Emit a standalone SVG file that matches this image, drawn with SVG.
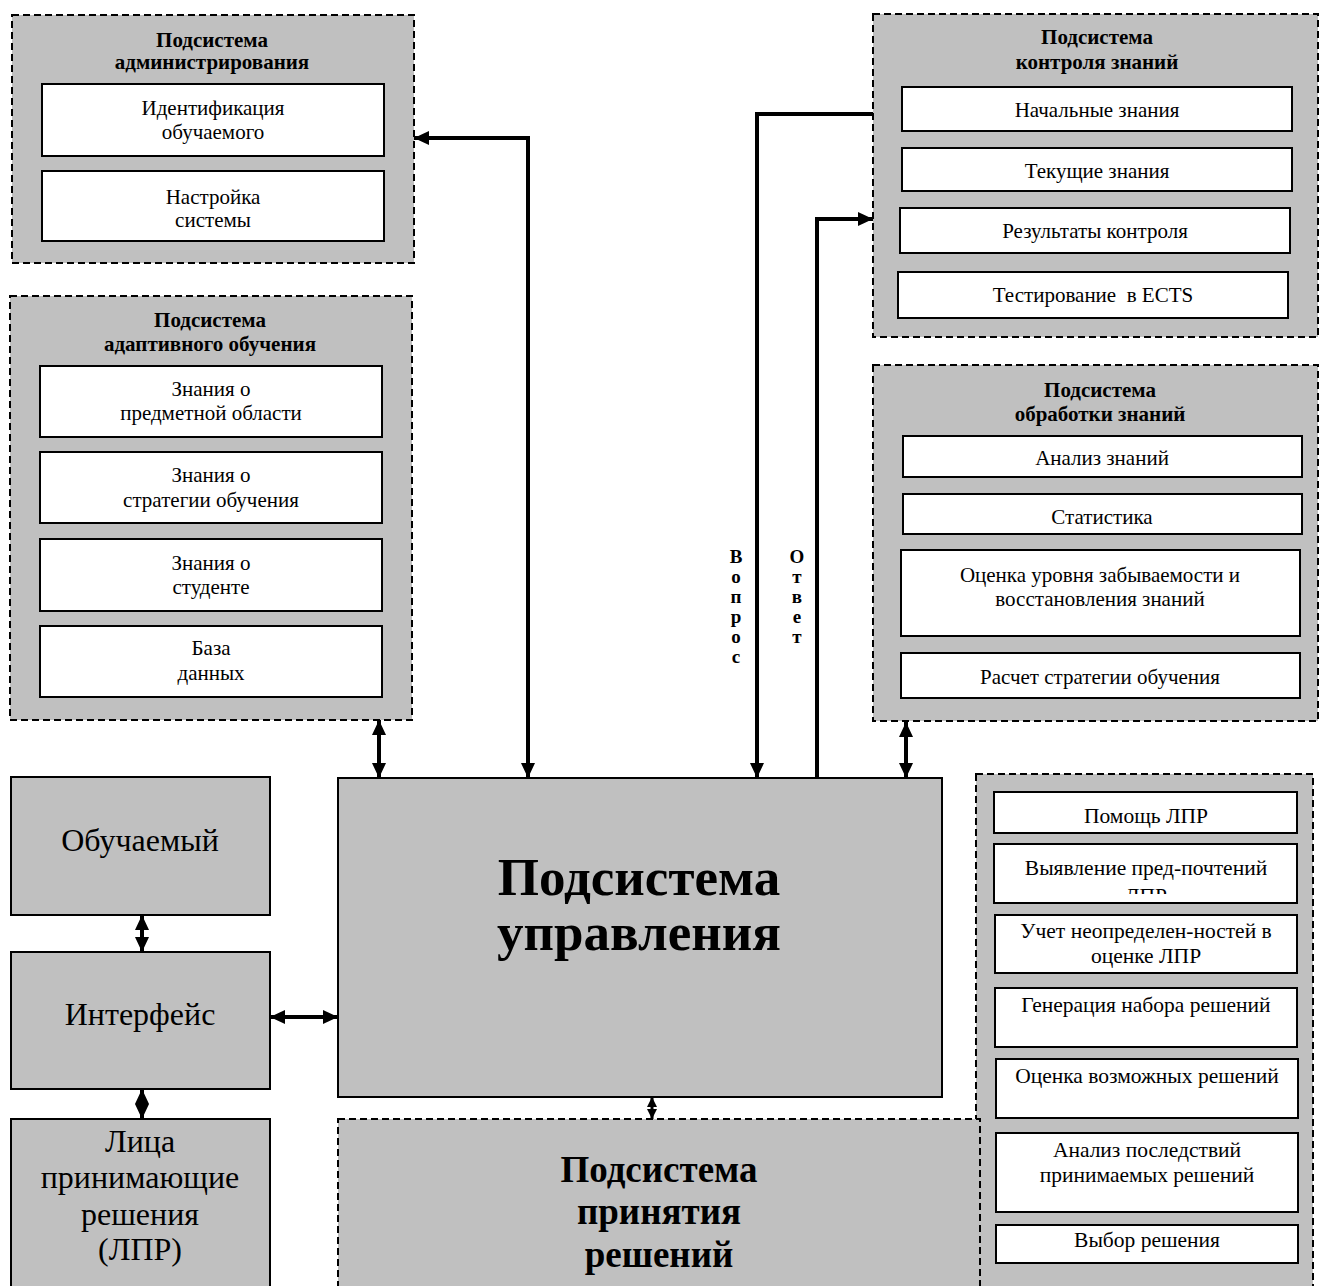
<svg xmlns="http://www.w3.org/2000/svg" width="1323" height="1286" viewBox="0 0 1323 1286">
<style>
text{font-family:"Liberation Serif","Times New Roman",serif;fill:#000;text-anchor:middle}
.t{font-size:21px}
.p{font-size:21.5px}
.b{font-size:21px;font-weight:bold}
.v{font-size:19px;font-weight:bold}
.big{font-size:32px}
.grp{fill:#c0c0c0;stroke:#000;stroke-width:2;stroke-dasharray:7 4}
.item{fill:#fff;stroke:#000;stroke-width:2}
.solid{fill:#c0c0c0;stroke:#000;stroke-width:2}
.c{fill:none;stroke:#000;stroke-width:4;stroke-linejoin:miter}
.cs{fill:none;stroke:#000;stroke-width:3}
</style>
<defs>
<marker id="ah" viewBox="0 0 15 14" refX="15" refY="7" markerWidth="15" markerHeight="14" markerUnits="userSpaceOnUse" orient="auto-start-reverse"><path d="M0,0 L15,7 L0,14 z" fill="#000"/></marker>
<marker id="as" viewBox="0 0 10 10" refX="10" refY="5" markerWidth="10" markerHeight="10" markerUnits="userSpaceOnUse" orient="auto-start-reverse"><path d="M0,0 L10,5 L0,10 z" fill="#000"/></marker>
<clipPath id="clipLPR"><rect x="994" y="844" width="303" height="50"/></clipPath>
</defs>

<g id="admin">
<rect class="grp" x="12" y="15" width="402" height="248"/>
<text class="b" x="212" y="47">Подсистема</text>
<text class="b" x="212" y="69">администрирования</text>
<rect class="item" x="42" y="84" width="342" height="72"/>
<text class="t" x="213" y="115">Идентификация</text>
<text class="t" x="213" y="139">обучаемого</text>
<rect class="item" x="42" y="171" width="342" height="70"/>
<text class="t" x="213" y="204">Настройка</text>
<text class="t" x="213" y="227">системы</text>
</g>

<g id="adaptive">
<rect class="grp" x="10" y="296" width="402" height="424"/>
<text class="b" x="210" y="327">Подсистема</text>
<text class="b" x="210" y="351">адаптивного обучения</text>
<rect class="item" x="40" y="366" width="342" height="71"/>
<text class="t" x="211" y="396">Знания о</text>
<text class="t" x="211" y="420">предметной области</text>
<rect class="item" x="40" y="452" width="342" height="71"/>
<text class="t" x="211" y="482">Знания о</text>
<text class="t" x="211" y="507">стратегии обучения</text>
<rect class="item" x="40" y="539" width="342" height="72"/>
<text class="t" x="211" y="570">Знания о</text>
<text class="t" x="211" y="594">студенте</text>
<rect class="item" x="40" y="626" width="342" height="71"/>
<text class="t" x="211" y="655">База</text>
<text class="t" x="211" y="680">данных</text>
</g>

<g id="control">
<rect class="grp" x="873" y="14" width="445" height="323"/>
<text class="b" x="1097" y="44">Подсистема</text>
<text class="b" x="1097" y="69">контроля знаний</text>
<rect class="item" x="902" y="87" width="390" height="44"/>
<text class="t" x="1097" y="117">Начальные знания</text>
<rect class="item" x="902" y="148" width="390" height="43"/>
<text class="t" x="1097" y="178">Текущие знания</text>
<rect class="item" x="900" y="208" width="390" height="45"/>
<text class="t" x="1095" y="238">Результаты контроля</text>
<rect class="item" x="898" y="272" width="390" height="46"/>
<text class="t" x="1093" y="302" xml:space="preserve">Тестирование  в ECTS</text>
</g>

<g id="processing">
<rect class="grp" x="873" y="365" width="445" height="356"/>
<text class="b" x="1100" y="397">Подсистема</text>
<text class="b" x="1100" y="421">обработки знаний</text>
<rect class="item" x="903" y="436" width="399" height="41"/>
<text class="t" x="1102" y="465">Анализ знаний</text>
<rect class="item" x="903" y="494" width="399" height="40"/>
<text class="t" x="1102" y="524">Статистика</text>
<rect class="item" x="901" y="550" width="399" height="86"/>
<text class="t" x="1100" y="582">Оценка уровня забываемости и</text>
<text class="t" x="1100" y="606">восстановления знаний</text>
<rect class="item" x="901" y="653" width="399" height="45"/>
<text class="t" x="1100" y="684">Расчет стратегии обучения</text>
</g>

<g id="decision-panel">
<rect class="grp" x="976" y="774" width="337" height="530"/>
<rect class="item" x="994" y="792" width="303" height="41"/>
<text class="p" x="1146" y="823">Помощь ЛПР</text>
<rect class="item" x="994" y="844" width="303" height="59"/>
<text class="p" x="1146" y="875">Выявление пред-почтений</text>
<text class="p" x="1146" y="903" clip-path="url(#clipLPR)">ЛПР</text>
<rect class="item" x="995" y="915" width="302" height="58"/>
<text class="p" x="1146" y="938">Учет неопределен-ностей в</text>
<text class="p" x="1146" y="963">оценке ЛПР</text>
<rect class="item" x="995" y="988" width="302" height="59"/>
<text class="p" x="1146" y="1012">Генерация набора решений</text>
<rect class="item" x="996" y="1059" width="302" height="59"/>
<text class="p" x="1147" y="1083">Оценка возможных решений</text>
<rect class="item" x="996" y="1133" width="302" height="79"/>
<text class="p" x="1147" y="1157">Анализ последствий</text>
<text class="p" x="1147" y="1182">принимаемых решений</text>
<rect class="item" x="996" y="1225" width="302" height="38"/>
<text class="p" x="1147" y="1247">Выбор решения</text>
</g>

<g id="decision">
<rect class="grp" x="338" y="1119" width="642" height="185"/>
<text x="659" y="1182" style="font-size:37px;font-weight:bold">Подсистема</text>
<text x="659" y="1224" style="font-size:37px;font-weight:bold">принятия</text>
<text x="659" y="1267" style="font-size:37px;font-weight:bold">решений</text>
</g>

<g id="control-main">
<rect class="solid" x="338" y="778" width="604" height="319"/>
<text x="639" y="895" style="font-size:53px;font-weight:bold">Подсистема</text>
<text x="639" y="950" style="font-size:53px;font-weight:bold">управления</text>
</g>

<g id="learner">
<rect class="solid" x="11" y="777" width="259" height="138"/>
<text class="big" x="140" y="851">Обучаемый</text>
</g>

<g id="interface">
<rect class="solid" x="11" y="952" width="259" height="137"/>
<text class="big" x="140" y="1025">Интерфейс</text>
</g>

<g id="lpr">
<rect class="solid" x="11" y="1119" width="259" height="185"/>
<text class="big" x="140" y="1152">Лица</text>
<text class="big" x="140" y="1188">принимающие</text>
<text class="big" x="140" y="1225">решения</text>
<text class="big" x="140" y="1260">(ЛПР)</text>
</g>

<g id="labels">
<text class="v" x="736" y="563">В</text>
<text class="v" x="736" y="583">о</text>
<text class="v" x="736" y="603">п</text>
<text class="v" x="736" y="623">р</text>
<text class="v" x="736" y="643">о</text>
<text class="v" x="736" y="663">с</text>
<text class="v" x="797" y="563">О</text>
<text class="v" x="797" y="583">т</text>
<text class="v" x="797" y="603">в</text>
<text class="v" x="797" y="623">е</text>
<text class="v" x="797" y="643">т</text>
</g>

<g id="connectors">
<path class="c" d="M414,138 L528,138 L528,778" marker-start="url(#ah)" marker-end="url(#ah)"/>
<path class="c" d="M873,114 L757,114 L757,778" marker-end="url(#ah)"/>
<path class="c" d="M817,778 L817,219 L873,219" marker-end="url(#ah)"/>
<path class="c" d="M379,720 L379,778" marker-start="url(#ah)" marker-end="url(#ah)"/>
<path class="c" d="M906,722 L906,778" marker-start="url(#ah)" marker-end="url(#ah)"/>
<path class="c" d="M142,915 L142,952" marker-start="url(#ah)" marker-end="url(#ah)"/>
<path class="c" d="M142,1089 L142,1119" marker-start="url(#ah)" marker-end="url(#ah)"/>
<path class="c" d="M270,1017 L338,1017" marker-start="url(#ah)" marker-end="url(#ah)"/>
<path class="cs" d="M652,1097 L652,1119" marker-start="url(#as)" marker-end="url(#as)"/>
</g>
</svg>
